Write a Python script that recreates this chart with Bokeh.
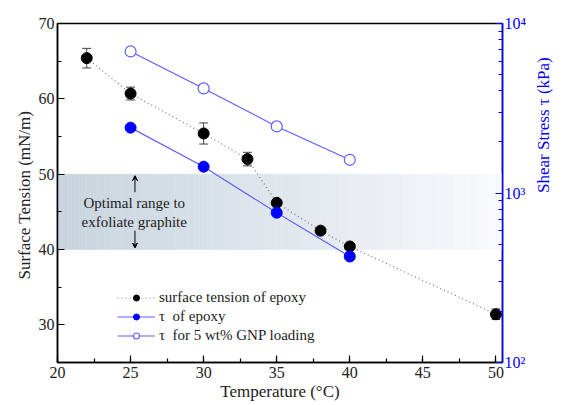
import math
import numpy as np
from bokeh.plotting import figure
from bokeh.models import (Range1d, LogScale, LogAxis, FixedTicker, Whisker, TeeHead,
                          ColumnDataSource, Legend, LegendItem, Arrow, VeeHead, Label)
from bokeh.embed import file_html
from bokeh.resources import INLINE

# ---- data ----
temp_st = [22, 25, 30, 33, 35, 38, 40, 50]
surf_tension = [65.4, 60.7, 55.4, 52.0, 46.2, 42.5, 40.4, 31.4]
surf_err = [1.3, 0.85, 1.4, 0.9, 0.8, 0.9, 0.8, 0.7]

temp_tau = [25, 30, 35, 40]
tau_epoxy = [2430, 1430, 765, 422]
tau_gnp = [6840, 4140, 2470, 1570]

x_ticks = [20, 25, 30, 35, 40, 45, 50]
y_ticks = [30, 40, 50, 60, 70]
tau_ticks = [100, 1000, 10000]
tau_tick_labels = {100: "10²", 1000: "10³", 10000: "10⁴"}
band_low, band_high = 40, 50

FONT = "Liberation Serif"
BLUE_LINE = "#5f5fff"
BLUE = "#0000ff"

p = figure(width=565, height=405, output_backend="svg", toolbar_location=None,
           x_range=Range1d(20, 50.45), y_range=Range1d(25, 70),
           min_border_left=57, min_border_top=23, min_border_right=48, min_border_bottom=43)
p.extra_y_ranges = {"tau": Range1d(100, 10000)}
p.extra_y_scales = {"tau": LogScale()}
p.grid.visible = False
p.outline_line_color = "black"
p.outline_line_width = 1.5
p.background_fill_color = "white"
p.border_fill_color = "white"

# gradient band (decoration)
n = 160
xs = np.linspace(20, 50.45, n + 1)
c0 = np.array([200, 212, 222])
c1 = np.array([249, 250, 252])
cols = []
for i in range(n):
    t = i / (n - 1)
    c = (c0 + (c1 - c0) * t).astype(int)
    cols.append("#%02x%02x%02x" % tuple(c))
p.quad(left=xs[:-1], right=xs[1:], bottom=band_low, top=band_high,
       fill_color=cols, line_color=cols, line_width=0.5)

# surface tension
src = ColumnDataSource(dict(x=temp_st, y=surf_tension,
                            lo=[v - e for v, e in zip(surf_tension, surf_err)],
                            hi=[v + e for v, e in zip(surf_tension, surf_err)]))
l1 = p.line("x", "y", source=src, line_color="#777777", line_dash="1 3", line_width=1.2)
w = Whisker(source=src, base="x", lower="lo", upper="hi", line_color="#444444", line_width=1,
            upper_head=TeeHead(size=9, line_color="#444444", line_width=1),
            lower_head=TeeHead(size=9, line_color="#444444", line_width=1))
p.add_layout(w)
s1 = p.scatter("x", "y", source=src, size=11, fill_color="black", line_color="black")

# tau epoxy
l2 = p.line(temp_tau, tau_epoxy, y_range_name="tau", line_color=BLUE_LINE, line_width=1.2)
s2 = p.scatter(temp_tau, tau_epoxy, y_range_name="tau", size=11, fill_color=BLUE, line_color=BLUE)

# tau GNP
l3 = p.line(temp_tau, tau_gnp, y_range_name="tau", line_color=BLUE_LINE, line_width=1.2)
s3 = p.scatter(temp_tau, tau_gnp, y_range_name="tau", size=11, fill_color="white",
               line_color=BLUE_LINE, line_width=1.2)

# axes
xa = p.xaxis[0]
xa.ticker = FixedTicker(ticks=x_ticks, minor_ticks=list(np.arange(20, 50.1, 2.5)))
xa.axis_label = "Temperature (°C)"
ya = p.yaxis[0]
ya.ticker = FixedTicker(ticks=y_ticks, minor_ticks=list(range(25, 71, 5)))
ya.axis_label = "Surface Tension  (mN/m)"
for ax in (xa, ya):
    ax.axis_line_width = 1.5
    ax.axis_line_color = "black"
    ax.major_tick_in = 7
    ax.major_tick_out = 0
    ax.minor_tick_in = 4
    ax.minor_tick_out = 0
    ax.major_tick_line_width = 1.2
    ax.minor_tick_line_width = 1.2
    ax.major_label_text_font = FONT
    ax.major_label_text_font_size = "16px"
    ax.major_label_text_color = "#222222"
    ax.axis_label_text_font = FONT
    ax.axis_label_text_font_size = "17px"
    ax.axis_label_text_font_style = "normal"
    ax.axis_label_text_color = "#222222"
    ax.major_label_standoff = 3
    ax.axis_label_standoff = 2
xa.major_label_standoff = 4
xa.axis_label_standoff = 1

minor_tau = [m * d for d in (100, 1000) for m in range(2, 10)]
ra = LogAxis(y_range_name="tau", ticker=FixedTicker(ticks=tau_ticks, minor_ticks=minor_tau),
             major_label_overrides=tau_tick_labels)
ra.axis_label = "Shear Stress τ (kPa)"
ra.axis_label_orientation = math.pi / 2
ra.axis_line_color = BLUE
ra.axis_line_width = 1.5
ra.major_tick_line_color = BLUE
ra.minor_tick_line_color = BLUE
ra.major_tick_in = 7
ra.major_tick_out = 0
ra.minor_tick_in = 4
ra.minor_tick_out = 0
ra.major_tick_line_width = 1.2
ra.minor_tick_line_width = 1.2
ra.major_label_text_color = BLUE
ra.major_label_text_font = FONT
ra.major_label_text_font_size = "16px"
ra.axis_label_text_color = BLUE
ra.axis_label_text_font = FONT
ra.axis_label_text_font_size = "17px"
ra.axis_label_text_font_style = "normal"
ra.major_label_standoff = 2
ra.axis_label_standoff = 14
p.add_layout(ra, "right")

# annotation
for txt, yy in (("Optimal range to", 46.2), ("exfoliate graphite", 43.6)):
    p.add_layout(Label(x=25.25, y=yy, text=txt, text_align="center", text_baseline="middle",
                       text_font=FONT, text_font_size="15px", text_color="#222222"))
p.add_layout(Arrow(x_start=25.3, y_start=47.6, x_end=25.3, y_end=49.8, line_width=1,
                   line_color="black", end=VeeHead(size=5, fill_color="black", line_color="black")))
p.add_layout(Arrow(x_start=25.3, y_start=42.5, x_end=25.3, y_end=40.2, line_width=1,
                   line_color="black", end=VeeHead(size=5, fill_color="black", line_color="black")))

legend = Legend(items=[LegendItem(label="surface tension of epoxy", renderers=[l1, s1]),
                       LegendItem(label="τ  of epoxy", renderers=[l2, s2]),
                       LegendItem(label="τ  for 5 wt% GNP loading", renderers=[l3, s3])],
                location=(60, 18), background_fill_alpha=0, border_line_color=None,
                label_text_font=FONT, label_text_font_size="15px", label_text_color="#222222",
                glyph_width=38, glyph_height=15, label_height=15, spacing=2, padding=0,
                margin=0, label_standoff=4)
p.add_layout(legend, "center")

open("out.html", "w").write(file_html(p, INLINE))
